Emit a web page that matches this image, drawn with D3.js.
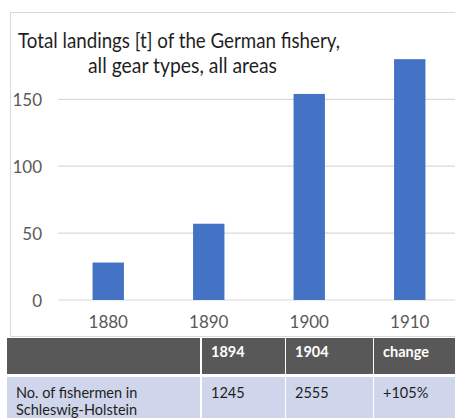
<!DOCTYPE html>
<html>
<head>
<meta charset="utf-8">
<script src="https://cdn.jsdelivr.net/npm/d3@7"></script>
<style>
  html, body { margin: 0; padding: 0; background: #fff; }
  svg { display: block; font-family: Lato, "Open Sans", sans-serif; }
</style>
</head>
<body>
<div id="chart"></div>
<script>
// chart data
const years = ['1880', '1890', '1900', '1910'];
const landings = [28, 57, 154, 180];
const yTicks = [0, 50, 100, 150];
const titleLines = ['Total landings [t] of the German fishery,', 'all gear types, all areas'];

// table data
const tableHeader = ['', '1894', '1904', 'change'];
const tableRow = [['No. of fishermen in', 'Schleswig-Holstein'], ['1245'], ['2555'], ['+105%']];

const width = 455, height = 418;

const svg = d3.select('#chart').append('svg')
    .attr('width', width)
    .attr('height', height);

svg.append('rect')
    .attr('width', width)
    .attr('height', height)
    .attr('fill', '#fff');

// chart frame
svg.append('rect')
    .attr('x', 10.5).attr('y', 12.5)
    .attr('width', 460).attr('height', 324)
    .attr('fill', '#fff')
    .attr('stroke', '#d9d9d9')
    .attr('stroke-width', 1);

// title, two lines
svg.append('text')
    .attr('x', 18).attr('y', 48)
    .attr('font-size', 21)
    .attr('fill', '#1f1f1f')
    .attr('textLength', 322)
    .attr('lengthAdjust', 'spacingAndGlyphs')
    .text(titleLines[0]);
svg.append('text')
    .attr('x', 88).attr('y', 73)
    .attr('font-size', 21)
    .attr('fill', '#1f1f1f')
    .attr('textLength', 189)
    .attr('lengthAdjust', 'spacingAndGlyphs')
    .text(titleLines[1]);

const x = d3.scaleBand()
    .domain(years)
    .range([58, 460])
    .paddingInner(0.688)
    .paddingOuter(0.344);

const y = d3.scaleLinear()
    .domain([0, 150])
    .range([300, 99.3]);

// gridlines
svg.append('g')
    .selectAll('line')
    .data(yTicks)
    .enter()
    .append('line')
    .attr('x1', 58).attr('x2', width)
    .attr('y1', d => y(d)).attr('y2', d => y(d))
    .attr('stroke', '#d9d9d9')
    .attr('stroke-width', 1.2);

// y labels
const yAxis = svg.append('g')
    .attr('transform', 'translate(42,0)')
    .call(d3.axisLeft(y).tickValues(yTicks).tickSize(0).tickPadding(0));
yAxis.select('.domain').remove();
yAxis.selectAll('text')
    .attr('font-family', 'Lato, "Open Sans", sans-serif')
    .attr('font-size', 17)
    .attr('fill', '#595959')
    .attr('dy', '0.36em');

// bars
svg.append('g')
    .selectAll('rect')
    .data(landings)
    .enter()
    .append('rect')
    .attr('x', (d, i) => x(years[i]))
    .attr('y', d => y(d))
    .attr('width', x.bandwidth())
    .attr('height', d => y(0) - y(d))
    .attr('fill', '#4472c4');

// x labels
const xAxis = svg.append('g')
    .attr('transform', 'translate(0,300)')
    .call(d3.axisBottom(x).tickSize(0).tickPadding(0));
xAxis.select('.domain').remove();
xAxis.selectAll('text')
    .attr('font-family', 'Lato, "Open Sans", sans-serif')
    .attr('font-size', 17)
    .attr('fill', '#595959')
    .attr('dy', null)
    .attr('y', 28);

// table
const colX = [7, 201, 285, 373, width + 2];
const table = svg.append('g');

tableHeader.forEach((h, i) => {
    table.append('rect')
        .attr('x', colX[i] + (i ? 1 : 0))
        .attr('y', 338)
        .attr('width', colX[i + 1] - colX[i] - 1)
        .attr('height', 36)
        .attr('fill', '#585858');
    table.append('text')
        .attr('x', colX[i] + 10)
        .attr('y', 357)
        .attr('font-size', 14.5)
        .attr('font-weight', 'bold')
        .attr('fill', '#fff')
        .text(h);
});

tableRow.forEach((lines, i) => {
    table.append('rect')
        .attr('x', colX[i] + (i ? 1 : 0))
        .attr('y', 377)
        .attr('width', colX[i + 1] - colX[i] - 1)
        .attr('height', 41)
        .attr('fill', '#cfd5ea');
    lines.forEach((t, j) => {
        table.append('text')
            .attr('x', colX[i] + (i ? 10 : 9))
            .attr('y', 398 + j * 17)
            .attr('font-size', 14.5)
            .attr('fill', '#1f1f1f')
            .text(t);
    });
});
</script>
</body>
</html>
